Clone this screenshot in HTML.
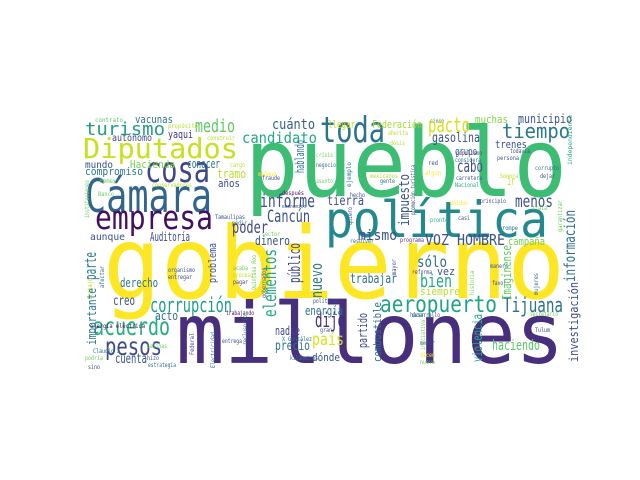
<!DOCTYPE html>
<html><head><meta charset="utf-8">
<style>
html,body{margin:0;padding:0;background:#fff;}
svg{display:block;}
text{font-family:"DejaVu Sans Mono","Liberation Mono",monospace;}
</style></head>
<body>
<svg width="640" height="480" viewBox="0 0 640 480" xmlns="http://www.w3.org/2000/svg">
<rect width="640" height="480" fill="#fff"/>
<g id="words"></g>
</svg>
<script>
// [text, x, baseline, fontSize, length, color, rotated]
const words = [
["gobierno",103,298,100,462,"#fde725",0],
["pueblo",245,196,95,322,"#3dbc74",0],
["millones",176,363,84,388,"#472f7d",0],
["política",325,237,50,223,"#23898e",0],
["Cámara",85,212,46,127,"#32658e",0],
["toda",320,142,36,65,"#2c728e",0],
["cosa",145,182,36,65,"#3f4788",0],
["empresa",95,229,33,118,"#440f5f",0],
["Diputados",83,158,28,155,"#c8e020",0],
["turismo",85,135,18,80,"#23a083",0],
["medio",195,132,18,40,"#5ec962",0],
["cuánto",272,129,14,43,"#355f8d",0],
["vacunas",135,123,11,38,"#2a788e",0],
["contrato",95,122,6,28,"#5ec962",0],
["propósito",168,128,6,30,"#b5de2b",0],
["autónomo",112,141,10,40,"#3e4a89",0],
["yaqui",168,138,11,25,"#443983",0],
["construir",207,140,6,28,"#b5de2b",0],
["candidato",242,143,15,75,"#22a884",0],
["mundo",85,168,10,28,"#3b528b",0],
["Hacienda",130,168,11,45,"#7ad151",0],
["conocer",187,168,12,33,"#2c728e",0],
["cargo",230,167,6,15,"#b5de2b",0],
["compromiso",85,175,11,58,"#2a788e",0],
["tramo",217,178,12,29,"#bade28",0],
["años",218,187,11,22,"#3e4a89",0],
["Pemex",100,183,6,16,"#6ece58",0],
["conservadores",152,187,6,40,"#b5de2b",0],
["Banco",98,196,6,16,"#6ece58",0],
["Tamaulipas",215,219,6,30,"#3b528b",0],
["pedir",232,225,6,15,"#2a788e",0],
["sector",262,236,6,18,"#6ece58",0],
["después",282,195,6,22,"#440f5f",0],
["económico",282,208,5,24,"#3e4a89",0],
["crisis",316,157,6,17,"#6ece58",0],
["negocio",316,167,6,20,"#2c728e",0],
["asunto",316,183,6,17,"#6ece58",0],
["mañana",258,176,6,18,"#fde725",0],
["fraude",262,180,6,18,"#3b528b",0],
["informe",260,207,18,55,"#3b528b",0],
["Cancún",267,222,17,43,"#3b528b",0],
["poder",232,233,17,36,"#414487",0],
["Auditoría",150,241,12,40,"#3e4a89",0],
["aunque",90,240,10,35,"#3b528b",0],
["llegar",328,128,11,27,"#c2df23",0],
["Federación",372,128,11,50,"#a5db36",0],
["cinco",430,123,6,14,"#2c728e",0],
["muchas",475,123,11,33,"#84d44b",0],
["municipio",518,123,12,54,"#3b528b",0],
["pacto",428,132,20,42,"#d8e219",0],
["tiempo",502,138,20,68,"#2a788e",0],
["ahorita",388,135,6,20,"#b5de2b",0],
["dosis",390,145,6,15,"#b5de2b",0],
["gasolina",432,142,13,48,"#3b528b",0],
["grupo",455,155,11,22,"#2a788e",0],
["trenes",495,148,11,32,"#3b528b",0],
["populismo",456,155,6,26,"#6a2c8a",0],
["todavía",510,153,6,20,"#3b528b",0],
["considera",455,162,6,26,"#2c728e",0],
["persona",497,160,6,22,"#3b528b",0],
["cabo",457,172,17,26,"#3b528b",0],
["ir",507,185,12,8,"#d2e21b",0],
["carretera",456,180,6,26,"#3b528b",0],
["corrupto",535,170,6,24,"#2c728e",0],
["dejar",540,178,6,15,"#3b528b",0],
["Sonora",500,178,6,18,"#b5de2b",0],
["Nacional",455,187,6,24,"#22a884",0],
["red",428,165,6,10,"#3b528b",0],
["algún",425,175,6,16,"#fde725",0],
["mexicanos",370,178,6,28,"#b5de2b",0],
["gente",380,183,6,15,"#2c728e",0],
["hecho",350,197,6,15,"#3b528b",0],
["tierra",327,205,13,37,"#3b528b",0],
["menos",515,207,17,38,"#3b528b",0],
["Unidos",450,205,6,18,"#fde725",0],
["principio",480,203,6,26,"#3b528b",0],
["pronto",430,222,6,18,"#22a884",0],
["casi",458,220,6,12,"#3b528b",0],
["trata",532,210,6,15,"#6ece58",0],
["rompe",502,230,6,16,"#2c728e",0],
["mismo",358,240,14,39,"#3b528b",0],
["VOZ HOMBRE",425,245,15,80,"#3b528b",0],
["campaña",508,245,11,37,"#7ad151",0],
["programa",400,242,6,24,"#6a2c8a",0],
["dinero",255,245,12,35,"#3b528b",0],
["resolver",350,243,6,24,"#2c728e",0],
["derecho",120,287,12,38,"#2a788e",0],
["organismo",168,272,6,27,"#3b528b",0],
["entregar",168,279,6,24,"#3e4a89",0],
["acaba",233,270,6,15,"#6ece58",0],
["proceso",233,277,6,20,"#b5de2b",0],
["pagar",233,284,6,15,"#3e4a89",0],
["creo",113,305,13,22,"#3b528b",0],
["corrupción",150,312,20,82,"#1f9e89",0],
["acto",155,320,12,23,"#2c728e",0],
["acuerdo",93,335,25,77,"#29af7f",0],
["energía eléctrica",90,328,6,55,"#440f5f",0],
["trabajando",226,315,6,28,"#440f5f",0],
["pesos",105,355,25,57,"#3e4a89",0],
["Claudio X",93,353,6,27,"#2c728e",0],
["podría",85,360,6,18,"#6ece58",0],
["sino",88,369,6,12,"#3b528b",0],
["cuenta",115,363,13,32,"#3b528b",0],
["hizo",147,360,6,12,"#3b528b",0],
["estrategia",148,367,6,28,"#2c728e",0],
["Salinas",147,348,6,20,"#6ece58",0],
["entrega",222,343,6,20,"#3b528b",0],
["nadie",275,335,12,25,"#3e4a89",0],
["precio",275,350,13,35,"#2c728e",0],
["X González",282,341,6,30,"#2c728e",0],
["kilómetros",290,360,6,28,"#2c728e",0],
["energía",305,315,12,38,"#2c728e",0],
["dijo",315,327,20,30,"#472c7a",0],
["gran",320,332,6,12,"#3b528b",0],
["país",312,345,17,32,"#d8e219",0],
["dónde",312,361,11,28,"#3b528b",0],
["políticos",313,303,6,26,"#3b528b",0],
["sólo",417,267,15,30,"#2c728e",0],
["vez",437,275,11,18,"#3b528b",0],
["trabajar",350,283,13,47,"#2c728e",0],
["bien",420,287,18,32,"#22a884",0],
["siempre",420,295,11,40,"#bade28",0],
["manera",490,268,6,18,"#3b528b",0],
["favor",492,285,6,14,"#3e4a89",0],
["reforma",412,274,6,20,"#3e4a89",0],
["aeropuerto",380,312,23,117,"#20a386",0],
["Tijuana",503,312,20,60,"#2c728e",0],
["desarrollo",412,317,6,28,"#3b528b",0],
["secretario",530,316,6,28,"#6ece58",0],
["haciendo",492,350,14,48,"#5ec962",0],
["Tulum",535,332,6,15,"#3b528b",0],
["hacen",410,317,6,15,"#2c728e",0],
["mejor",420,345,6,15,"#3b528b",0],
["dicen",420,357,6,15,"#fde725",0],
["nueva",420,364,6,15,"#6ece58",0],
// vertical words: [text, xBaseline, yBottom, fs, length, color, 1]
["hablando",304,173,12,33,"#2c728e",1],
["instituciones",89,218,6,38,"#6ece58",1],
["promoción turística",415,215,6,50,"#3b528b",1],
["ejemplo",351,187,6,25,"#2c728e",1],
["impuesto",409,226,14,52,"#3b528b",1],
["información",575,282,15,72,"#2c728e",1],
["independiente",572,165,6,50,"#22a884",1],
["quiero",352,225,6,18,"#3b528b",1],
["garantizar",562,232,6,32,"#6ece58",1],
["parte",96,280,16,28,"#2a788e",1],
["afectar",104,288,6,22,"#2c728e",1],
["trabajo",92,300,6,22,"#b5de2b",1],
["importante",96,345,12,57,"#2a788e",1],
["problema",216,283,11,40,"#3b528b",1],
["Quintana Roo",256,290,6,35,"#6ece58",1],
["gobernador",266,298,6,30,"#3b528b",1],
["elementos",276,317,18,68,"#22a884",1],
["público",300,283,16,40,"#3e4a89",1],
["nuevo",322,298,16,35,"#2a788e",1],
["Federal",194,355,6,22,"#3b528b",1],
["Electricidad",215,368,6,36,"#2c728e",1],
["reclusorio",247,345,6,30,"#2c728e",1],
["mayor",396,275,6,16,"#3e4a89",1],
["historia",474,295,6,24,"#6ece58",1],
["mujeres",538,295,6,22,"#2c728e",1],
["Imagínense",511,300,12,55,"#5ec962",1],
["investigación",578,362,12,80,"#3e4a89",1],
["partido",367,348,12,35,"#3e4a89",1],
["combustible",381,362,11,60,"#2c728e",1],
["violencia",482,362,13,48,"#22a884",1],
["iniciativa",425,350,6,30,"#6ece58",1]
];
const g = document.getElementById('words');
const NS = 'http://www.w3.org/2000/svg';
for (const w of words) {
  const t = document.createElementNS(NS, 'text');
  t.textContent = w[0];
  t.setAttribute('font-size', w[3]);
  t.setAttribute('fill', w[5]);
  t.setAttribute('textLength', w[4]);
  t.setAttribute('lengthAdjust', 'spacingAndGlyphs');
  if (w[6]) {
    t.setAttribute('transform', 'translate(' + w[1] + ',' + w[2] + ') rotate(-90)');
  } else {
    t.setAttribute('x', w[1]);
    t.setAttribute('y', w[2]);
  }
  
  
  g.appendChild(t);
}
</script>
</body></html>
